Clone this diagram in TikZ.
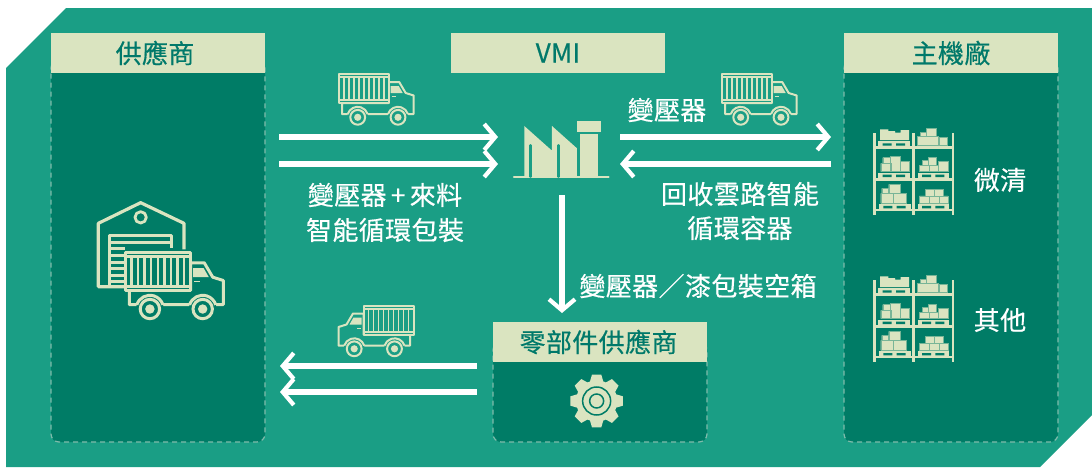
\documentclass[tikz,border=0pt]{standalone}
\usepackage{fontspec}
\setmainfont[LetterSpace=1.5,FakeBold=0.5]{Noto Sans CJK TC}
\usetikzlibrary{arrows.meta}
\definecolor{bgteal}{HTML}{1A9E85}
\definecolor{panelteal}{HTML}{007C66}
\definecolor{cream}{HTML}{DAE4C0}
\definecolor{headtext}{HTML}{00796A}
\definecolor{dashcol}{HTML}{7FBBAB}
\tikzset{
  x=1pt,y=-1pt,
  panelbody/.style={draw=dashcol,fill=panelteal,line width=1.2pt,dash pattern=on 5pt off 4pt,rounded corners=8pt,minimum width=214pt,inner sep=0pt},
  headbox/.style={fill=cream,text=headtext,minimum width=214pt,minimum height=40pt,inner sep=0pt,font=\fontsize{26}{30}\selectfont},
  caption/.style={text=white,inner sep=0pt,font=\fontsize{26}{30}\selectfont},
  flow/.style={draw=white,line width=5.6pt,-{Straight Barb[length=11pt,width=26pt,line width=4.2pt]}},
  pics/truck/.style 2 args={code={
    \draw[cream,line width=#2,line join=round,fill=#1] (50,8)--(60.5,8)--(67,19)--(75,21.5)--(75,40)--(3.3,40)--(3.3,29)--(50,29)--cycle;
    \draw[cream,line width=#2,fill=#1,line join=round] (0,0) rectangle (50,29);
    \draw[cream,line width=#2] (0,3.3)--(50,3.3) (0,26)--(50,26);
    \foreach \r in {5,10,...,45}{\draw[cream,line width=0.8*#2] (\r,3.3)--(\r,26);}
    \fill[cream] (52,12)--(60,12)--(64,19)--(52,19)--cycle;
    \draw[cream,line width=1pt] (53,22.5)--(57,22.5);
    \foreach \c in {19,59.3}{
      \fill[#1] (\c,43.3) circle (10.5);
      \draw[cream,line width=#2] (\c,43.3)+(198:10.5) arc (198:342:10.5);
      \draw[cream,line width=#2,fill=#1] (\c,43.3) circle (7.4);
      \fill[cream] (\c,43.3) circle (3.6);
    }
  }},
  crate/.style={fill=cream,draw=cream!55!panelteal,line width=0.35pt},
  pics/rack/.style={code={
    \begin{scope}[x=0.3333pt,y=-0.3333pt]
    \draw[cream,line width=2.6pt] (43,40)--(43,285) (160,40)--(160,285) (279,40)--(279,285)
      (43,82)--(279,82) (43,178)--(279,178) (43,270)--(279,270);
    % row 1
    \fill[cream] (60,28)--(85,28)--(85,33)--(105,33)--(105,38)--(122,38)--(122,30)--(147,30)--(147,60)--(60,60)--cycle;
    \path[crate] (172,50) rectangle (235,76) (180,38) rectangle (200,50) (200,25) rectangle (230,50) (237,52) rectangle (262,76);
    % row 2
    \path[crate] (68,113) rectangle (90,130) (62,130) rectangle (92,155) (90,108) rectangle (122,155) (122,125) rectangle (147,155);
    \path[crate] (186,122) rectangle (204,135) (204,113) rectangle (230,135) (178,135) rectangle (208,155) (208,135) rectangle (235,155) (235,125) rectangle (264,155);
    % row 3
    \path[crate] (65,205) rectangle (85,220) (86,193) rectangle (122,220) (62,220) rectangle (100,250) (100,220) rectangle (138,250);
    \path[crate] (195,207) rectangle (222,230) (223,207) rectangle (250,230) (178,228) rectangle (207,250) (207,228) rectangle (237,250) (237,228) rectangle (264,250);
    % pallets
    \foreach \y/\lx in {64/55,158/55,252/57}{
      \fill[cream] (\lx,\y) rectangle +(95,17);
      \fill[panelteal] (\lx+13,\y+6) rectangle +(27,7) (\lx+53,\y+6) rectangle +(27,7);
    }
    \foreach \y in {158,252}{
      \fill[cream] (175,\y) rectangle +(93,17);
      \fill[panelteal] (186,\y+6) rectangle +(27,7) (226,\y+6) rectangle +(27,7);
    }
    \end{scope}
  }}
}
\begin{document}
\begin{tikzpicture}
\useasboundingbox (0,0) rectangle (1092,467);
% background plate
\fill[bgteal] (66,8)--(1092,8)--(1092,415)--(1040,467)--(6,467)--(6,68)--cycle;
% panels
\node[panelbody,minimum height=382pt] (supbody) at (158,251) {};
\node[panelbody,minimum height=382pt] (oembody) at (951,251) {};
\node[panelbody,minimum height=100pt] (partbody) at (600,392) {};
\node[headbox] (suphead) at (158,53) {\hspace{-6pt}供應商};
\node[headbox] (vmihead) at (558,53) {VMI};
\node[headbox] (oemhead) at (951,53) {主機廠};
\node[headbox] (parthead) at (600,342) {\hspace{-3pt}零部件供應商};
% warehouse
\begin{scope}[shift={(80,190)},x=0.3333pt,y=-0.3333pt,line join=round]
  \draw[cream,line width=3.2pt] (135,290)--(55,290)--(55,100)--(182,38)--(312,100)--(312,178);
  \draw[cream,line width=2.8pt] (182,82) circle (17);
  \draw[cream,line width=3.2pt] (135,290)--(88,290)--(88,137)--(275,137)--(275,175);
  \draw[cream,line width=2.6pt] (92,158)--(272,158);
  \draw[cream,line width=3pt] (92,176)--(135,176) (92,196)--(135,196) (92,216)--(135,216) (92,236)--(135,236) (92,256)--(135,256) (92,276)--(135,276);
\end{scope}
\pic at (125,252.3) [scale=1.31] {truck={panelteal}{3pt}};
% small trucks
\pic at (338.7,74) {truck={bgteal}{2pt}};
\pic at (721.7,74) {truck={bgteal}{2pt}};
\pic at (413.5,305.5) [xscale=-1] {truck={bgteal}{2pt}};
% factory
\begin{scope}[shift={(270,60)},x=0.3333pt,y=-0.3333pt]
  \fill[cream] (763,198)--(846,272)--(846,198)--(921,265)--(921,349)--(763,349)--cycle;
  \fill[cream] (931,222) rectangle (984,349);
  \fill[cream] (921,183) rectangle (993,216);
  \draw[cream,line width=2pt,line cap=round] (732,352)--(1016,352);
  \draw[bgteal,line width=2.6pt,line cap=round] (782,256)--(782,350) (866,256)--(866,350);
\end{scope}
% racks
\pic at (860,120) {rack};
\pic at (860,267) {rack};
% gear
\begin{scope}[shift={(270,300)},x=0.3333pt,y=-0.3333pt]
  \foreach \a in {0,45,...,315}{
    \fill[cream,shift={(980,303)},rotate=\a] (55,-21)--(79,-14)--(79,14)--(55,21)--cycle;
  }
  \fill[cream] (980,303) circle (62);
  \draw[panelteal,line width=1.5pt] (980,303) circle (42) (980,303) circle (21);
\end{scope}
% connectors
\coordinate (a1s) at (279,137); \coordinate (a1e) at (498,137);
\coordinate (a2s) at (279,164); \coordinate (a2e) at (498,164);
\coordinate (b1s) at (620,137); \coordinate (b1e) at (831,137);
\coordinate (b2s) at (831,164); \coordinate (b2e) at (620,164);
\coordinate (ds) at (562,195);
\coordinate (de) at (562,313);
\coordinate (c1e) at (280,366); \coordinate (c2e) at (280,392);
\coordinate (c1s) at (476.5,366); \coordinate (c2s) at (476.5,392);
\draw[flow] (a1s)--(a1e);
\draw[flow] (a2s)--(a2e);
\draw[flow] (b1s)--(b1e);
\draw[flow] (b2s)--(b2e);
\draw[flow] (ds)--(de);
\draw[flow] (c1s)--(c1e);
\draw[flow] (c2s)--(c2e);
% captions
\node[caption] (t1) at (385,195) {變壓器\,+\,來料};
\node[caption] (t2) at (385,230) {智能循環包裝};
\node[caption] (t3) at (667,110) {變壓器};
\node[caption] (t4) at (740,194) {回收雲路智能};
\node[caption] (t5) at (740,228) {循環容器};
\node[caption] (t6) at (698,286) {變壓器／漆包裝空箱};
\node[caption] (t7) at (1000,180) {微清};
\node[caption] (t8) at (1000,320) {其他};
\end{tikzpicture}
\end{document}
